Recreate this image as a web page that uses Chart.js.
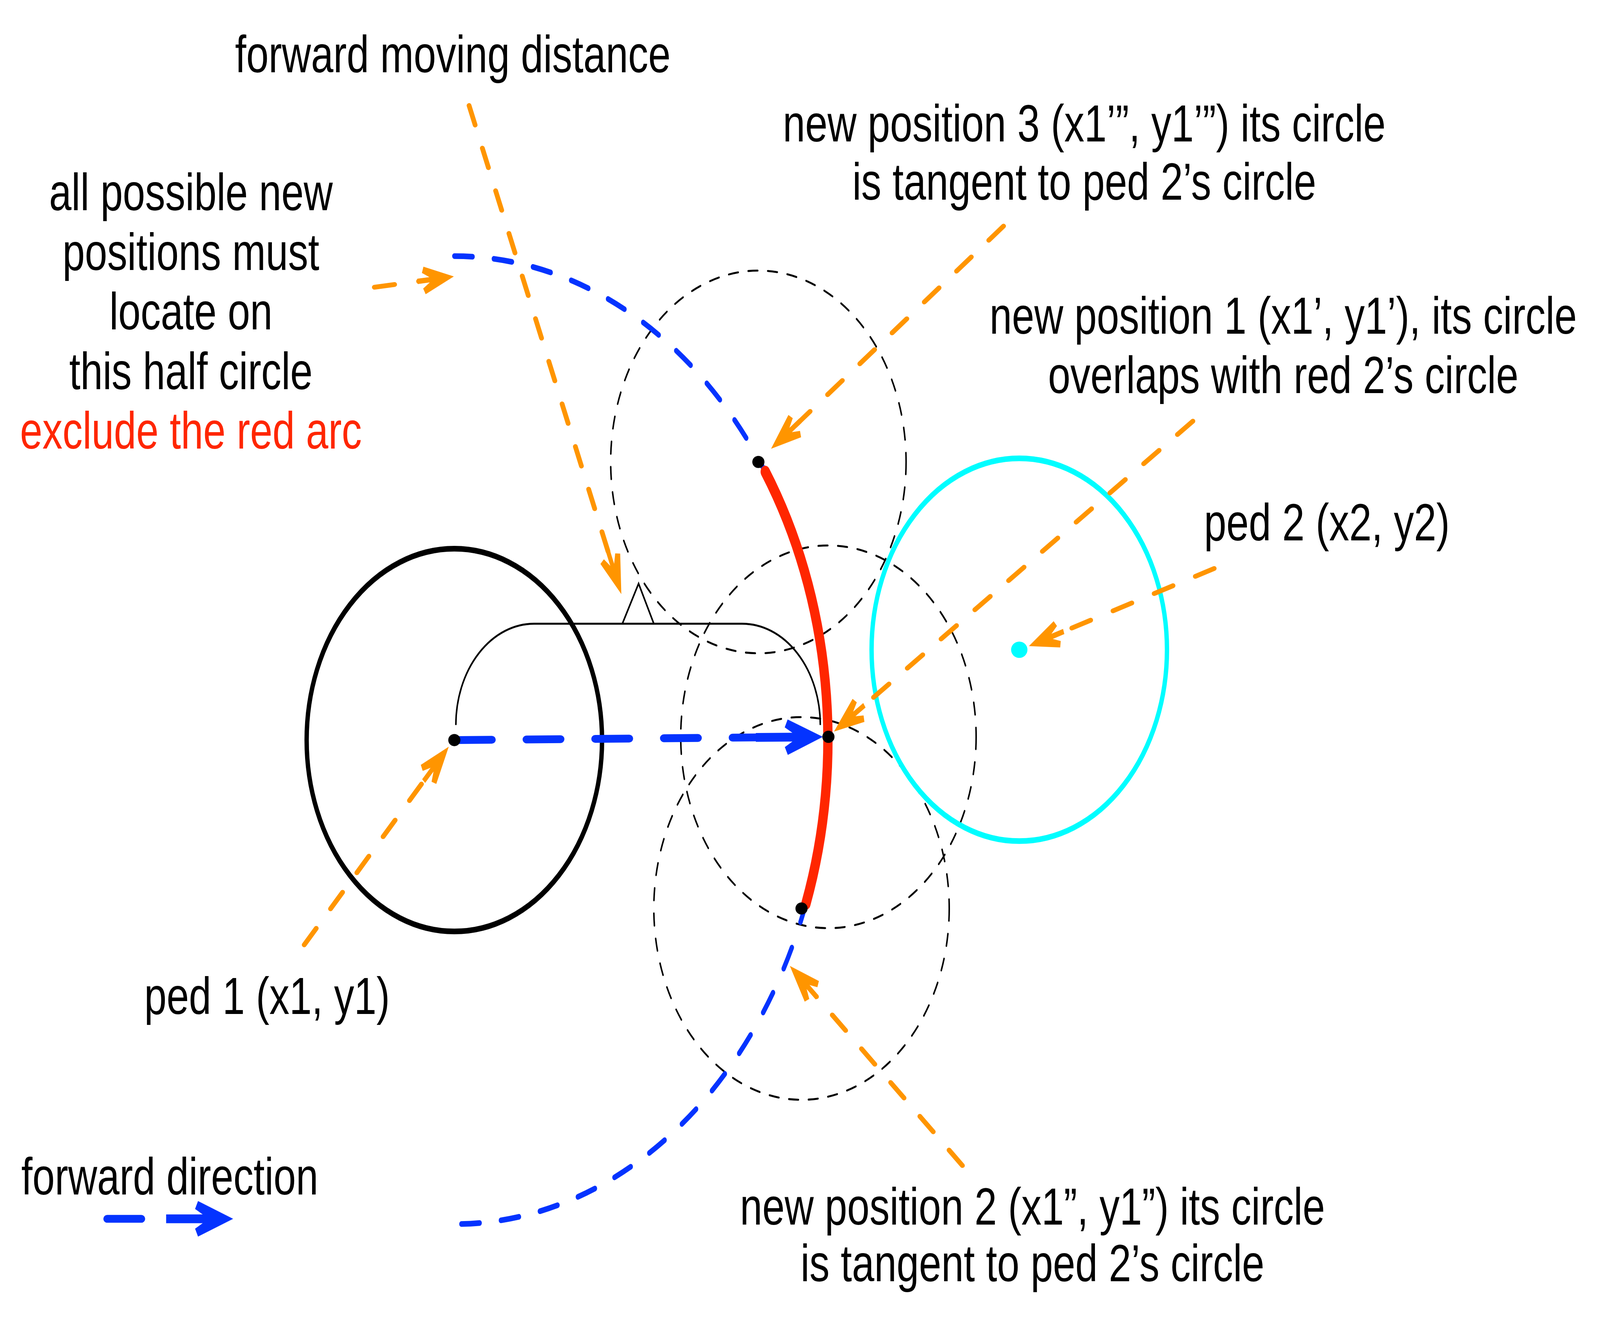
<!DOCTYPE html>
<html lang="en">
<head>
<meta charset="utf-8">
<title>forward moving distance</title>
<script src="https://cdn.jsdelivr.net/npm/chart.js@4.4.1/dist/chart.umd.min.js"></script>
<style>
  html, body { margin: 0; padding: 0; background: #fff; overflow: hidden; }
  #wrap { position: relative; width: 100vw; height: 100vh; }
</style>
</head>
<body>
<div id="wrap"><canvas id="sketch"></canvas></div>
<script>
/* -------------------------
   Data (reference frame units, y grows downward)
   ------------------------- */
const frameWidth = 1560;
const frameHeight = 995;

// ped 1, ped 2
const pedX = [439.5, 996];
const pedY = [556.5, 487.8];
const pedRadius = 145.5;

// candidate new positions of ped 1: position 3, position 1, position 2
const newPosX = [739, 808, 781.5];
const newPosY = [345, 554, 684.5];
const forwardDistance = 368;
const blockedFrom = 0;   // red arc runs from position 3 ...
const blockedTo = 2;     // ... down to position 2

// bracket over the forward moving distance
const bracketX = [441, 800];
const bracketY = [468, 545];
const notchX = [605, 621, 636];
const notchY = [468, 437.5, 468];

// orange callouts (label end -> target end)
const calloutFromX = [454, 360.7, 980.5, 1167, 1188, 291.6, 940];
const calloutFromY = [74, 212.2, 165.7, 314, 426, 712.2, 880];
const calloutToX = [604, 439, 751.5, 813.5, 1005.5, 434, 770];
const calloutToY = [445.5, 204, 335, 550, 485, 561.5, 728.2];

// legend
const legendArrowX = [97.6, 221.6];
const legendArrowY = [920.5, 920.5];
const legendLabel = 'forward direction';
const legendLabelX = 12.9;
const legendLabelY = 902;

// labels, anchored at their centre
const labelText = [
  'forward moving distance',
  'new position 3 (x1’”, y1’”) its circle',
  'is tangent to ped 2’s circle',
  'all possible new',
  'positions must',
  'locate on',
  'this half circle',
  'exclude the red arc',
  'new position 1 (x1’, y1’), its circle',
  'overlaps with red 2’s circle',
  'ped 2 (x2, y2)',
  'ped 1 (x1, y1)',
  'new position 2 (x1”, y1”) its circle',
  'is tangent to ped 2’s circle'
];
const labelX = [438, 1060, 1060, 180, 180, 180, 180, 180, 1256, 1256, 1299, 255, 1009, 1009];
const labelY = [48.6, 101.2, 145.5, 153.7, 199, 244.3, 289.6, 334.9, 247.5, 292.7, 404.6, 764.8, 925, 968];
const warningLabel = 'exclude the red arc';

/* -------------------------
   Styles
   ------------------------- */
const ink = '#000000';
const orange = '#FF9500';
const blue = '#0433FF';
const red = '#FF2600';
const cyan = '#00FDFF';
const fontFamily = '"Liberation Sans", Arial, Helvetica, sans-serif';
const fontSize = 39.6;

// pixel size of one frame unit for the library-drawn lines
const U = Math.sqrt((window.innerWidth / frameWidth) * (window.innerHeight / frameHeight));

const headShapes = {
  orange: [[0, 0], [-29, 10.5], [-31, 6], [-24, 2.05], [-36, 2.05]],
  blue: [[0, 0], [-34.6, 13.5], [-37.5, 7.5], [-30, 3.35], [-66, 3.35]]
};

/* -------------------------
   helpers
   ------------------------- */
// run fn with the context mapped to frame units through the chart scales
function inFrame(chart, fn) {
  const ctx = chart.ctx;
  const sx = chart.scales.x, sy = chart.scales.y;
  const ox = sx.getPixelForValue(0), oy = sy.getPixelForValue(0);
  const kx = sx.getPixelForValue(1) - ox;
  const ky = sy.getPixelForValue(1) - oy;
  ctx.save();
  ctx.translate(ox, oy);
  ctx.scale(kx, ky);
  fn(ctx);
  ctx.restore();
}

// point on segment from->to, `back` frame units before `to`
function pullBack(fx, fy, tx, ty, back) {
  const d = Math.hypot(tx - fx, ty - fy);
  return { x: tx - (tx - fx) / d * back, y: ty - (ty - fy) / d * back };
}

function drawHead(ctx, ds) {
  const { x: x0, y: y0 } = ds.headFrom;
  const { x: x1, y: y1 } = ds.headTo;
  const d = Math.hypot(x1 - x0, y1 - y0);
  const ux = (x1 - x0) / d, uy = (y1 - y0) / d;
  const pts = headShapes[ds.headShape];
  const outline = pts.concat(pts.slice(1).reverse().map(p => [p[0], -p[1]]));
  ctx.fillStyle = ds.borderColor;
  ctx.beginPath();
  outline.forEach(([a, b], i) => {
    const px = x1 + ux * a - uy * b;
    const py = y1 + uy * a + ux * b;
    if (i === 0) ctx.moveTo(px, py); else ctx.lineTo(px, py);
  });
  ctx.closePath();
  ctx.fill();
}

/* -------------------------
   plugin: circles, arcs, bracket, heads, text
   ------------------------- */
const sketchPlugin = {
  id: 'sketch',
  beforeDatasetsDraw(chart) {
    inFrame(chart, ctx => {
      // dashed circles of the new positions
      ctx.strokeStyle = ink;
      ctx.lineWidth = 1.5;
      ctx.lineCap = 'round';
      ctx.setLineDash([9.4, 9.9]);
      newPosX.forEach((x, i) => {
        ctx.beginPath();
        ctx.arc(x, newPosY[i], pedRadius, 0, Math.PI * 2);
        ctx.stroke();
      });

      // half circle of all possible new positions
      ctx.strokeStyle = blue;
      ctx.lineWidth = 4.3;
      ctx.setLineDash([18, 21]);
      ctx.beginPath();
      ctx.arc(pedX[0], pedY[0], forwardDistance, -Math.PI / 2, Math.PI / 2, false);
      ctx.stroke();
      ctx.setLineDash([]);

      // bracket + notch
      ctx.strokeStyle = ink;
      ctx.lineWidth = 1.5;
      ctx.lineCap = 'butt';
      ctx.lineJoin = 'miter';
      const r = bracketY[1] - bracketY[0];
      ctx.beginPath();
      ctx.arc(bracketX[0] + r, bracketY[1], r, Math.PI, Math.PI * 1.5);
      ctx.lineTo(bracketX[1] - r, bracketY[0]);
      ctx.arc(bracketX[1] - r, bracketY[1], r, Math.PI * 1.5, Math.PI * 2);
      ctx.stroke();
      ctx.beginPath();
      notchX.forEach((x, i) => {
        if (i === 0) ctx.moveTo(x, notchY[i]); else ctx.lineTo(x, notchY[i]);
      });
      ctx.stroke();

      // ped circles
      ctx.lineWidth = 4.3;
      [ink, cyan].forEach((col, i) => {
        ctx.strokeStyle = col;
        ctx.beginPath();
        ctx.arc(pedX[i], pedY[i], pedRadius, 0, Math.PI * 2);
        ctx.stroke();
      });

      // red arc: blocked part of the half circle
      const a0 = Math.atan2(newPosY[blockedFrom] - pedY[0], newPosX[blockedFrom] - pedX[0]) + 10 / forwardDistance;
      const a1 = Math.atan2(newPosY[blockedTo] - pedY[0], newPosX[blockedTo] - pedX[0]) - 5 / forwardDistance;
      ctx.strokeStyle = red;
      ctx.lineWidth = 9.2;
      ctx.lineCap = 'round';
      ctx.beginPath();
      ctx.arc(pedX[0], pedY[0], forwardDistance, a0, a1, false);
      ctx.stroke();
    });
  },
  afterDatasetDraw(chart, args) {
    const ds = chart.data.datasets[args.index];
    if (ds.headShape) inFrame(chart, ctx => drawHead(ctx, ds));
  },
  afterDatasetsDraw(chart) {
    inFrame(chart, ctx => {
      ctx.font = `${fontSize}px ${fontFamily}`;
      ctx.textBaseline = 'alphabetic';
      ctx.textAlign = 'center';
      labelText.forEach((t, i) => {
        ctx.fillStyle = t === warningLabel ? red : ink;
        ctx.fillText(t, labelX[i], labelY[i]);
      });
      ctx.textAlign = 'left';
      ctx.fillStyle = ink;
      ctx.fillText(legendLabel, legendLabelX, legendLabelY);
    });
  }
};

/* -------------------------
   datasets
   ------------------------- */
const calloutSets = calloutFromX.map((fx, i) => {
  const from = { x: fx, y: calloutFromY[i] };
  const to = { x: calloutToX[i], y: calloutToY[i] };
  return {
    label: 'callout ' + (i + 1),
    data: [from, pullBack(from.x, from.y, to.x, to.y, 24)],
    showLine: true,
    borderColor: orange,
    borderWidth: 4.1 * U,
    borderDash: [17.5 * U, 20.7 * U],
    borderCapStyle: 'round',
    pointRadius: 0,
    headShape: 'orange',
    headFrom: from,
    headTo: to
  };
});

// forward direction: ped 1 -> new position 1, tip stops at the dot
const fwdLen = Math.hypot(newPosX[1] - pedX[0], newPosY[1] - pedY[0]);
const fwdTip = pullBack(pedX[0], pedY[0], newPosX[1], newPosY[1], 5.5);
const fwdStart = pullBack(pedX[0], pedY[0], newPosX[1], newPosY[1], fwdLen - 3.4);
const forwardSet = {
  label: 'forward direction',
  data: [fwdStart, pullBack(pedX[0], pedY[0], fwdTip.x, fwdTip.y, 30)],
  showLine: true,
  borderColor: blue,
  borderWidth: 6.7 * U,
  borderDash: [29.1 * U, 29.7 * U],
  borderCapStyle: 'round',
  pointRadius: 0,
  headShape: 'blue',
  headFrom: { x: pedX[0], y: pedY[0] },
  headTo: fwdTip
};

const legendFrom = { x: legendArrowX[0], y: legendArrowY[0] };
const legendTo = { x: legendArrowX[1], y: legendArrowY[1] };
const legendSet = {
  label: 'legend',
  data: [legendFrom, pullBack(legendFrom.x, legendFrom.y, legendTo.x, legendTo.y, 30)],
  showLine: true,
  borderColor: blue,
  borderWidth: 6.7 * U,
  borderDash: [29.1 * U, 29.7 * U],
  borderCapStyle: 'round',
  pointRadius: 0,
  headShape: 'blue',
  headFrom: legendFrom,
  headTo: legendTo
};

const dotSet = {
  label: 'positions',
  data: [{ x: pedX[0], y: pedY[0] }].concat(newPosX.map((x, i) => ({ x, y: newPosY[i] }))),
  pointRadius: 5.2 * U,
  pointBackgroundColor: ink,
  pointBorderWidth: 0
};
const ped2Set = {
  label: 'ped 2',
  data: [{ x: pedX[1], y: pedY[1] }],
  pointRadius: 7 * U,
  pointBackgroundColor: cyan,
  pointBorderWidth: 0
};

new Chart(document.getElementById('sketch'), {
  type: 'scatter',
  data: { datasets: [dotSet, ped2Set, forwardSet, legendSet, ...calloutSets] },
  options: {
    responsive: true,
    maintainAspectRatio: false,
    animation: false,
    events: [],
    layout: { padding: 0 },
    plugins: { legend: { display: false }, tooltip: { enabled: false } },
    scales: {
      x: { type: 'linear', min: 0, max: frameWidth, display: false },
      y: { type: 'linear', min: 0, max: frameHeight, reverse: true, display: false }
    }
  },
  plugins: [sketchPlugin]
});
</script>
</body>
</html>
